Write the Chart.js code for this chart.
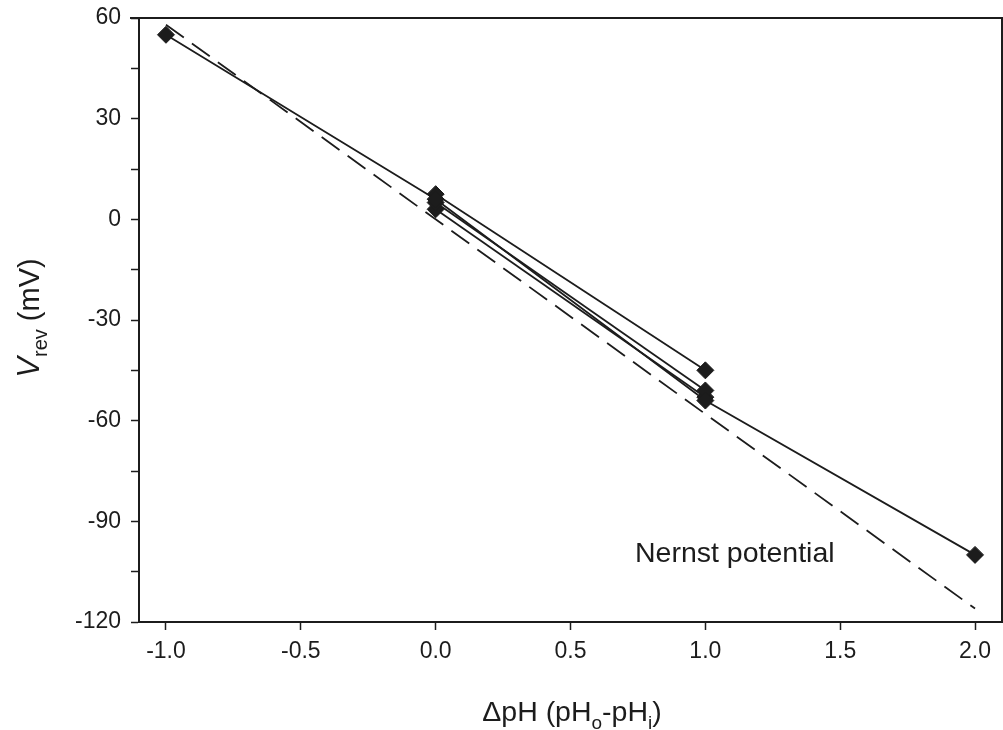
<!DOCTYPE html>
<html>
<head>
<meta charset="utf-8">
<script src="https://cdn.jsdelivr.net/npm/chart.js@4.4.1/dist/chart.umd.min.js"></script>
<style>
  html, body { margin: 0; padding: 0; background: #fff; }
  #wrap { width: 1003px; height: 730px; position: relative; }
</style>
</head>
<body>
<div id="wrap"><canvas id="chart" width="1003" height="730"></canvas></div>
<script>
// Reversal potential vs. pH gradient
const dpH = [-1, 0, 1, 2];
const cellA = [55, 6, -54, -100];      // full series -1 .. 2
const cellB = [null, 7.5, -45, null];
const cellC = [null, 5, -51, null];
const cellD = [null, 3, -53, null];
const nernstX = [-1, 2];
const nernstY = [58, -116];
const xTicks = [-1.0, -0.5, 0.0, 0.5, 1.0, 1.5, 2.0];
const yTicks = [-120, -105, -90, -75, -60, -45, -30, -15, 0, 15, 30, 45, 60];
const yLabelled = [-120, -90, -60, -30, 0, 30, 60];

const ink = '#1c1c1c';
const font = 'Arial, "Liberation Sans", Helvetica, sans-serif';

function pairs(xs, ys) {
    return xs.map((x, i) => ({ x: x, y: ys[i] })).filter(p => p.y !== null);
}

function cellSet(ys) {
    return {
        data: pairs(dpH, ys),
        showLine: true,
        borderColor: ink,
        borderWidth: 1.8,
        pointStyle: 'rectRot',
        pointRadius: 8.5,
        pointBackgroundColor: ink,
        pointBorderColor: ink,
        pointBorderWidth: 1
    };
}

function noPad(s) {
    s.paddingLeft = 0; s.paddingRight = 0; s.paddingTop = 0; s.paddingBottom = 0;
}

// frame, axis titles and the in-plot note
const decorations = {
    id: 'decorations',
    afterDraw(chart) {
        const { ctx, chartArea: a } = chart;
        ctx.save();
        ctx.strokeStyle = ink;
        ctx.lineWidth = 2;
        ctx.beginPath();
        ctx.moveTo(a.left - 9, a.top);
        ctx.lineTo(a.right, a.top);
        ctx.lineTo(a.right, a.bottom);
        ctx.stroke();

        ctx.fillStyle = ink;
        ctx.textBaseline = 'alphabetic';

        // "Nernst potential"
        ctx.font = '28.5px ' + font;
        ctx.textAlign = 'left';
        ctx.fillText('Nernst potential', 635, 562);

        // x title: ΔpH (pHo-pHi)
        const big = '28.5px ' + font, small = '19px ' + font;
        const parts = [
            ['\u0394pH (pH', big, 0], ['o', small, 8], ['-pH', big, 0], ['i', small, 8], [')', big, 0]
        ];
        let w = 0;
        parts.forEach(p => { ctx.font = p[1]; w += ctx.measureText(p[0]).width; });
        let x = 572 - w / 2;
        parts.forEach(p => {
            ctx.font = p[1];
            ctx.fillText(p[0], x, 721 + p[2]);
            x += ctx.measureText(p[0]).width;
        });

        // y title: Vrev (mV), rotated
        ctx.translate(39, 318);
        ctx.rotate(-Math.PI / 2);
        const yparts = [
            ['V', 'italic 31px ' + font, 0], ['rev', '20px ' + font, 8], [' (mV)', '29px ' + font, 0]
        ];
        w = 0;
        yparts.forEach(p => { ctx.font = p[1]; w += ctx.measureText(p[0]).width; });
        x = -w / 2;
        yparts.forEach(p => {
            ctx.font = p[1];
            ctx.fillText(p[0], x, p[2]);
            x += ctx.measureText(p[0]).width;
        });
        ctx.restore();
    }
};

new Chart(document.getElementById('chart'), {
    type: 'scatter',
    data: {
        datasets: [
            {
                data: pairs(nernstX, nernstY),
                showLine: true,
                borderColor: ink,
                borderWidth: 1.8,
                borderDash: [22, 10],
                pointRadius: 0
            },
            cellSet(cellA),
            cellSet(cellB),
            cellSet(cellC),
            cellSet(cellD)
        ]
    },
    options: {
        responsive: false,
        animation: false,
        layout: { autoPadding: false, padding: { left: 0, right: 1, top: 18, bottom: 0 } },
        plugins: { legend: { display: false }, tooltip: { enabled: false } },
        scales: {
            x: {
                type: 'linear',
                min: -1.1,
                max: 2.1,
                afterBuildTicks: s => { s.ticks = xTicks.map(v => ({ value: v })); },
                afterFit: s => { s.height = 108; noPad(s); },
                border: { color: ink, width: 2 },
                grid: { drawOnChartArea: false, color: ink, tickLength: 8, tickWidth: 1.5 },
                ticks: {
                    color: ink,
                    font: { family: font, size: 23 },
                    padding: 8,
                    maxRotation: 0,
                    callback: v => v.toFixed(1)
                }
            },
            y: {
                type: 'linear',
                min: -120,
                max: 60,
                afterBuildTicks: s => { s.ticks = yTicks.map(v => ({ value: v })); },
                afterFit: s => { s.width = 139; noPad(s); },
                border: { color: ink, width: 2 },
                grid: { drawOnChartArea: false, color: ink, tickLength: 8, tickWidth: 1.5 },
                ticks: {
                    color: ink,
                    font: { family: font, size: 23 },
                    padding: 10,
                    callback: v => yLabelled.includes(v) ? String(v) : ''
                }
            }
        }
    },
    plugins: [decorations]
});
</script>
</body>
</html>
